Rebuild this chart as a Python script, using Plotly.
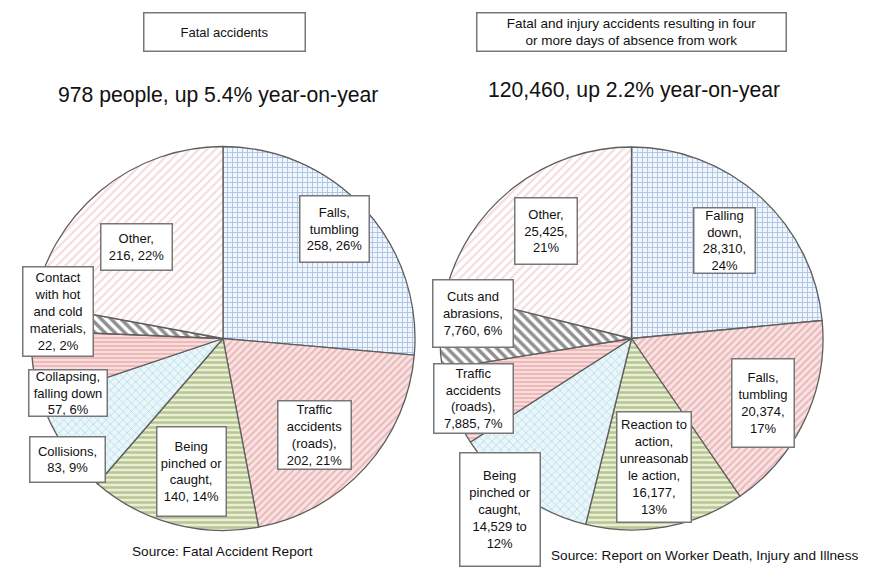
import plotly.graph_objects as go

# ---------------- data ----------------
left_labels = ["Falls, tumbling", "Traffic accidents (roads)", "Being pinched or caught",
               "Collisions", "Collapsing, falling down", "Contact with hot and cold materials", "Other"]
left_values = [258, 202, 140, 83, 57, 22, 216]
left_box_text = ["Falls,<br>tumbling<br>258, 26%", "Traffic<br>accidents<br>(roads),<br>202, 21%",
                 "Being<br>pinched or<br>caught,<br>140, 14%", "Collisions,<br>83, 9%",
                 "Collapsing,<br>falling down<br>57, 6%", "Contact<br>with hot<br>and cold<br>materials,<br>22, 2%",
                 "Other,<br>216, 22%"]

right_labels = ["Falling down", "Falls, tumbling", "Reaction to action, unreasonable action",
                "Being pinched or caught", "Traffic accidents (roads)", "Cuts and abrasions", "Other"]
right_values = [28310, 20374, 16177, 14529, 7885, 7760, 25425]
right_box_text = ["Falling<br>down,<br>28,310,<br>24%", "Falls,<br>tumbling<br>20,374,<br>17%",
                  "Reaction to<br>action,<br>unreasonab<br>le action,<br>16,177,<br>13%",
                  "Being<br>pinched or<br>caught,<br>14,529 to<br>12%", "Traffic<br>accidents<br>(roads),<br>7,885, 7%",
                  "Cuts and<br>abrasions,<br>7,760, 6%", "Other,<br>25,425,<br>21%"]

left_header = "Fatal accidents"
right_header = "Fatal and injury accidents resulting in four<br>or more days of absence from work"
left_total = "978 people, up 5.4% year-on-year"
right_total = "120,460, up 2.2% year-on-year"
left_source = "Source: Fatal Accident Report"
right_source = "Source: Report on Worker Death, Injury and Illness"

# ---------------- styles ----------------
W, H = 886, 574
shapes_p = ["+", "/", "-", "x", "-", "\\", "/"]
fg = ["#6b97d2", "#d98c8c", "#889d52", "#86bed6", "#dc8484", "#1f1f1f", "#ecb8b8"]
bg = ["#f1f5fc", "#f9e2e2", "#e8efd5", "#e9f6fa", "#f9dcdc", "#ffffff", "#ffffff"]
psize = [5, 5, 5, 6, 4, 7, 6]
psol = [0.35, 0.4, 0.5, 0.25, 0.4, 0.5, 0.35]

SANS = "Liberation Sans, Arial, sans-serif"


def px_x(x):
    return x / W


def px_y(y):
    return 1 - y / H


def pie(values, labels, cx, cy, r):
    return go.Pie(
        values=values, labels=labels, sort=False, direction="clockwise", rotation=0,
        textinfo="none", hoverinfo="label+value+percent", showlegend=False,
        domain=dict(x=[px_x(cx - r), px_x(cx + r)], y=[px_y(cy + r), px_y(cy - r)]),
        marker=dict(colors=bg, line=dict(color="#5e5e5e", width=1.3),
                    pattern=dict(shape=shapes_p, fgcolor=fg, bgcolor=bg, size=psize,
                                 solidity=psol, fillmode="overlay")),
    )


fig = go.Figure()
fig.add_trace(pie(left_values, left_labels, 223, 338.5, 192))
fig.add_trace(pie(right_values, right_labels, 631.5, 338.5, 191.5))

annotations = []


def box(text, cx, cy, w, h, size=13, font=SANS):
    annotations.append(dict(
        text=text, x=px_x(cx), y=px_y(cy), xref="paper", yref="paper",
        xanchor="center", yanchor="middle", showarrow=False,
        width=w - 3, height=h - 3, borderpad=0, borderwidth=1.5, bordercolor="#777777",
        bgcolor="#ffffff", align="center", valign="middle",
        font=dict(family=font, size=size, color="#111111")))


left_pos = [(334.5, 229, 71, 68), (314.5, 435, 75, 70), (191.5, 471.5, 71, 91), (67.5, 459.5, 77, 47),
            (68, 393, 80, 48), (58, 311.5, 72, 91), (136.5, 247, 73, 48)]
for t, (cx, cy, w, h) in zip(left_box_text, left_pos):
    box(t, cx, cy, w, h)

right_pos = [(724.5, 240, 63, 67), (763, 403, 64, 90), (654, 467, 76, 112), (500, 509.5, 82, 115),
             (473.5, 398.5, 81, 71), (473, 313.5, 82, 69), (546, 231, 64, 68)]
for t, (cx, cy, w, h) in zip(right_box_text, right_pos):
    box(t, cx, cy, w, h)

box(left_header, 224.5, 32, 163, 40, size=13)
box(right_header, 631.5, 32, 311, 40, size=13.5)


def text(t, cx, cy, size, font=SANS):
    annotations.append(dict(
        text=t, x=px_x(cx), y=px_y(cy), xref="paper", yref="paper",
        xanchor="center", yanchor="middle", showarrow=False,
        font=dict(family=font, size=size, color="#111111")))


text(left_total, 218, 95, 21.2)
text(right_total, 634, 90, 21.2)
text(left_source, 223, 551, 13.6)
text(right_source, 704, 555, 13.6)

fig.update_layout(
    width=W, height=H, margin=dict(l=0, r=0, t=0, b=0),
    paper_bgcolor="#ffffff", plot_bgcolor="#ffffff",
    annotations=annotations,
)

fig.write_html("out.html", config={"displayModeBar": False},
               post_script="document.body.style.margin='0';document.body.style.overflow='hidden';")
